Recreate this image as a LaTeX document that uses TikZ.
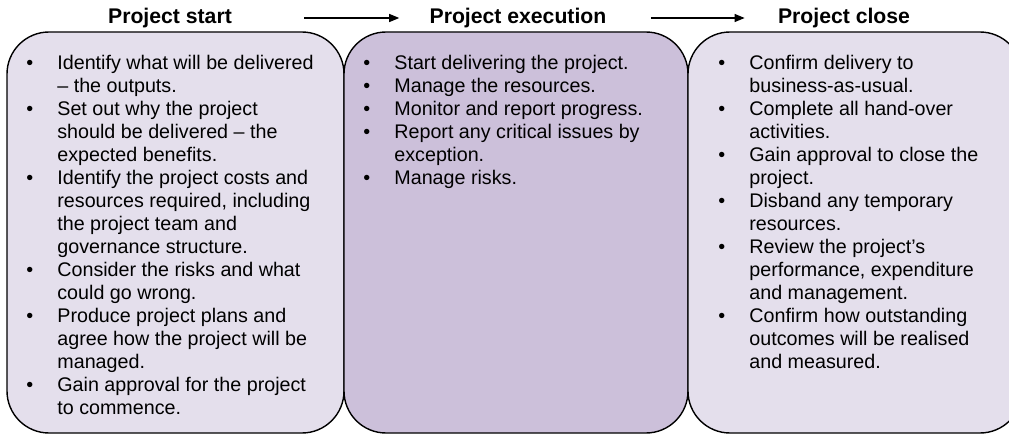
\documentclass[tikz,border=0pt]{standalone}
\usepackage{fontspec}
\setmainfont{Liberation Sans}
\usetikzlibrary{arrows.meta}
\definecolor{lavlight}{HTML}{E4DFEC}
\definecolor{lavmid}{HTML}{CCC0DA}
\tikzset{
  phasebox/.style={draw=black, line width=0.7pt, rounded corners=21pt},
  phasetitle/.style={inner sep=0pt, font=\fontsize{10.6}{12.7}\selectfont\bfseries},
  phaselist/.style={inner sep=0pt, anchor=base west, font=\fontsize{9.85}{11.5}\selectfont},
  flow/.style={-{Triangle[length=5pt,width=4pt]}, line width=0.6pt}
}
\newcommand{\bul}{\textbullet}
\begin{document}
\begin{tikzpicture}[x=0.5pt,y=0.5pt]
  \useasboundingbox (0,0) rectangle (1009,435);
  %
  \draw[phasebox, fill=lavlight] (7,2) rectangle (344,403);
  \draw[phasebox, fill=lavmid] (344,2) rectangle (688,403);
  \draw[phasebox, fill=lavlight] (688,2) rectangle (1022,403);
  %
  \node[phasetitle] (tstart) at (170,417) {Project start};
  \node[phasetitle] (texec) at (518,417) {Project execution};
  \node[phasetitle] (tclose) at (844,417) {Project close};
  %
  \draw[flow, shorten <=36pt, shorten >=15pt] (tstart) -- (texec);
  \draw[flow, shorten <=22pt, shorten >=16.5pt] (texec) -- (tclose);
  %
  \node[phaselist] (lstart) at (26,365) {%
    \begin{tabular}[t]{@{}p{15.5pt}@{}l@{}}
      \bul & Identify what will be delivered\\
           & – the outputs.\\
      \bul & Set out why the project\\
           & should be delivered – the\\
           & expected benefits.\\
      \bul & Identify the project costs and\\
           & resources required, including\\
           & the project team and\\
           & governance structure.\\
      \bul & Consider the risks and what\\
           & could go wrong.\\
      \bul & Produce project plans and\\
           & agree how the project will be\\
           & managed.\\
      \bul & Gain approval for the project\\
           & to commence.
    \end{tabular}};
  \node[phaselist] (lexec) at (363,365) {%
    \begin{tabular}[t]{@{}p{15.5pt}@{}l@{}}
      \bul & Start delivering the project.\\
      \bul & Manage the resources.\\
      \bul & Monitor and report progress.\\
      \bul & Report any critical issues by\\
           & exception.\\
      \bul & Manage risks.
    \end{tabular}};
  \node[phaselist] (lclose) at (718,365) {%
    \begin{tabular}[t]{@{}p{15.5pt}@{}l@{}}
      \bul & Confirm delivery to\\
           & business-as-usual.\\
      \bul & Complete all hand-over\\
           & activities.\\
      \bul & Gain approval to close the\\
           & project.\\
      \bul & Disband any temporary\\
           & resources.\\
      \bul & Review the project’s\\
           & performance, expenditure\\
           & and management.\\
      \bul & Confirm how outstanding\\
           & outcomes will be realised\\
           & and measured.
    \end{tabular}};
\end{tikzpicture}
\end{document}
